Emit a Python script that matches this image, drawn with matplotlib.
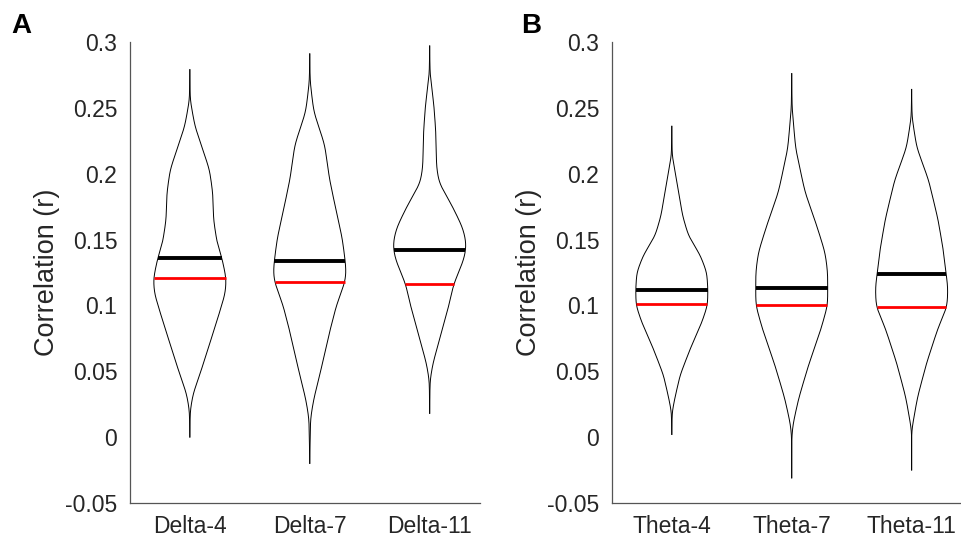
import numpy as np
import matplotlib.pyplot as plt

plt.rcParams['font.family'] = ['Liberation Sans', 'DejaVu Sans']

# Data
delta_labels = ['Delta-4', 'Delta-7', 'Delta-11']
theta_labels = ['Theta-4', 'Theta-7', 'Theta-11']

delta_means = [0.136, 0.134, 0.142]
delta_medians = [0.121, 0.118, 0.116]
theta_means = [0.112, 0.113, 0.124]
theta_medians = [0.101, 0.1005, 0.099]

# violin outlines: y level and relative density (1 = widest)
delta4_y = [0.279, 0.256, 0.236, 0.203, 0.185, 0.165, 0.147, 0.136, 0.120, 0.109, 0.088, 0.068, 0.048, 0.033, 0.020, 0.000]
delta4_d = [0, 0.01, 0.14, 0.54, 0.63, 0.65, 0.75, 0.88, 1.0, 0.97, 0.74, 0.51, 0.28, 0.09, 0.01, 0]
delta7_y = [0.291, 0.270, 0.247, 0.222, 0.196, 0.171, 0.151, 0.134, 0.125, 0.118, 0.100, 0.075, 0.049, 0.029, 0.014, -0.020]
delta7_d = [0, 0.01, 0.11, 0.41, 0.54, 0.73, 0.89, 0.97, 1.0, 0.97, 0.73, 0.50, 0.29, 0.11, 0.02, 0]
delta11_y = [0.297, 0.276, 0.251, 0.231, 0.205, 0.193, 0.175, 0.159, 0.149, 0.142, 0.134, 0.116, 0.099, 0.073, 0.056, 0.043, 0.018]
delta11_d = [0, 0.01, 0.12, 0.17, 0.19, 0.26, 0.63, 0.91, 1.0, 1.0, 0.93, 0.66, 0.52, 0.26, 0.09, 0.01, 0]

theta4_y = [0.236, 0.214, 0.194, 0.168, 0.153, 0.138, 0.125, 0.112, 0.100, 0.087, 0.067, 0.047, 0.029, 0.019, 0.002]
theta4_d = [0, 0.01, 0.14, 0.30, 0.46, 0.79, 0.97, 1.0, 0.99, 0.83, 0.51, 0.23, 0.08, 0.01, 0]
theta7_y = [0.276, 0.250, 0.219, 0.186, 0.161, 0.140, 0.125, 0.113, 0.100, 0.080, 0.054, 0.029, 0.009, -0.001, -0.031]
theta7_d = [0, 0.01, 0.11, 0.37, 0.69, 0.93, 1.0, 1.0, 1.0, 0.79, 0.46, 0.19, 0.03, 0.0, 0]
theta11_y = [0.264, 0.243, 0.220, 0.195, 0.165, 0.139, 0.124, 0.114, 0.099, 0.083, 0.056, 0.030, 0.005, -0.025]
theta11_d = [0, 0.01, 0.14, 0.47, 0.73, 0.89, 0.95, 1.0, 0.98, 0.73, 0.41, 0.16, 0.0, 0]

max_half = 0.3
txt = '#262626'


def outline(ys, ds):
    ys = np.array(ys)
    ds = np.array(ds)
    order = np.argsort(ys)
    ys, ds = ys[order], ds[order]
    grid = np.linspace(ys[0], ys[-1], 800)
    w = np.interp(grid, ys, ds)
    # gaussian smoothing so the outline looks like a kde
    sig = 12
    t = np.arange(-3 * sig, 3 * sig + 1)
    ker = np.exp(-0.5 * (t / sig) ** 2)
    ker /= ker.sum()
    w = np.convolve(np.pad(w, 3 * sig, mode='edge'), ker, mode='valid')
    w = w / w.max()
    return grid, w * max_half


def panel(ax, labels, profiles, means, medians):
    for i, (ys, ds) in enumerate(profiles):
        pos = i + 1
        g, w = outline(ys, ds)
        ax.plot(pos - w, g, color='k', lw=0.7)
        ax.plot(pos + w, g, color='k', lw=0.7)
        hm = np.interp(means[i], g, w)
        hd = np.interp(medians[i], g, w)
        ax.plot([pos - hm, pos + hm], [means[i], means[i]], color='k', lw=2.8, solid_capstyle='butt')
        ax.plot([pos - hd, pos + hd], [medians[i], medians[i]], color='red', lw=2.0, solid_capstyle='butt')
    ax.set_xlim(0.5, 3.42)
    ax.set_ylim(-0.05, 0.3)
    ax.set_xticks([1, 2, 3])
    ax.set_xticklabels(labels)
    ax.set_yticks([-0.05, 0, 0.05, 0.1, 0.15, 0.2, 0.25, 0.3])
    ax.set_yticklabels(['-0.05', '0', '0.05', '0.1', '0.15', '0.2', '0.25', '0.3'])
    ax.tick_params(length=0, labelsize=16.5, colors=txt, pad=9)
    ax.tick_params(axis='x', pad=9)
    for s in ['top', 'right']:
        ax.spines[s].set_visible(False)
    for s in ['left', 'bottom']:
        ax.spines[s].set_color('#555555')
        ax.spines[s].set_linewidth(0.9)
    ax.set_ylabel('Correlation (r)', fontsize=19.5, color=txt)
    ax.yaxis.set_label_coords(-0.20, 0.5)


fig = plt.figure(figsize=(9.62, 5.39), dpi=100)
ax1 = fig.add_axes([0.135, 0.067, 0.364, 0.855])
ax2 = fig.add_axes([0.636, 0.067, 0.364, 0.855])

panel(ax1, delta_labels,
      [(delta4_y, delta4_d), (delta7_y, delta7_d), (delta11_y, delta11_d)],
      delta_means, delta_medians)
panel(ax2, theta_labels,
      [(theta4_y, theta4_d), (theta7_y, theta7_d), (theta11_y, theta11_d)],
      theta_means, theta_medians)

fig.text(0.012, 0.975, 'A', fontsize=20, fontweight='bold', va='top', ha='left')
fig.text(0.542, 0.975, 'B', fontsize=20, fontweight='bold', va='top', ha='left')

fig.savefig('out.png', dpi=100)
